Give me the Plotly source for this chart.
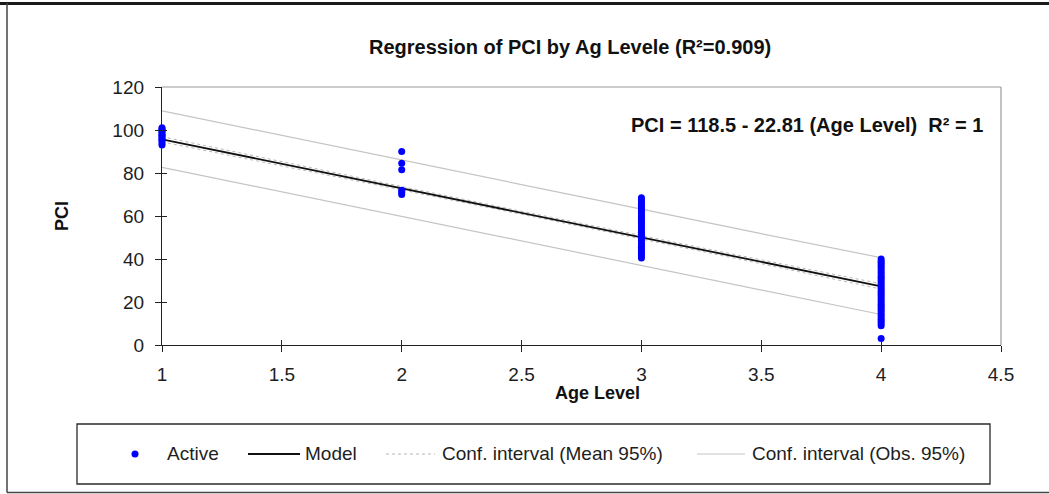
import plotly.graph_objects as go

# ---- data -------------------------------------------------------------
age_1 = [101, 100.5, 100, 99.5, 99, 98, 97.5, 97, 96, 95.5, 95, 94, 93]
age_2 = [90, 84.5, 81.5, 72, 71, 70]
age_3 = [68.5, 67.5, 66.5, 65.5, 64.5, 63.5, 62.5, 61.5, 60.5, 59.5, 58.5,
         57.5, 56.5, 55.5, 54.5, 53.5, 52.5, 51.5, 50.5, 49.5, 48.5, 47.5,
         46.5, 45.5, 44.5, 43.5, 42.5, 41.5, 40.5]
age_4 = [40, 39, 38, 37, 36, 35, 34, 33, 32, 31, 30, 29, 28, 27, 26, 25,
         24, 23, 22, 21, 20, 19, 18, 17, 16, 15, 14, 13, 12, 11, 10, 9, 3]

intercept = 118.5
slope = -22.81

ci_x = [1, 1.5, 2, 2.5, 3, 3.5, 4]
obs_upper = [108.9, 97.4, 86.0, 74.6, 63.2, 51.8, 40.6]
obs_lower = [82.6, 71.2, 59.8, 48.4, 37.0, 25.6, 14.2]
mean_upper = [96.9, 85.2, 73.7, 62.2, 50.8, 39.6, 28.5]
mean_lower = [94.5, 83.4, 72.1, 60.8, 49.4, 37.8, 26.0]

x_ticks = [1, 1.5, 2, 2.5, 3, 3.5, 4, 4.5]
y_ticks = [0, 20, 40, 60, 80, 100, 120]

title_text = "Regression of PCI by Ag Levele (R²=0.909)"
equation_text = "PCI = 118.5 - 22.81 (Age Level)  R² = 1"
legend_labels = ["Active", "Model", "Conf. interval (Mean 95%)",
                 "Conf. interval (Obs. 95%)"]

# ---- geometry helpers (pixel -> paper) ---------------------------------
W, H = 1049, 494
L, R, T, B = 162, 1001, 87, 345


def px(x):
    return (x - L) / (R - L)


def py(y):
    return (B - y) / (B - T)


FONT = "Liberation Sans, Arial, sans-serif"
BLUE = "#0000ff"
GRAY = "#c4c4c4"
MEAN_GRAY = "#b8b8b8"

fig = go.Figure()

pts_x = [1] * len(age_1) + [2] * len(age_2) + [3] * len(age_3) + [4] * len(age_4)
pts_y = age_1 + age_2 + age_3 + age_4

fig.add_trace(go.Scatter(x=ci_x, y=obs_upper, mode="lines",
                         line=dict(color=GRAY, width=1.2), showlegend=False))
fig.add_trace(go.Scatter(x=ci_x, y=obs_lower, mode="lines",
                         line=dict(color=GRAY, width=1.2), showlegend=False))
fig.add_trace(go.Scatter(x=ci_x, y=mean_upper, mode="lines",
                         line=dict(color=MEAN_GRAY, width=1, dash="dot"),
                         showlegend=False))
fig.add_trace(go.Scatter(x=ci_x, y=mean_lower, mode="lines",
                         line=dict(color=MEAN_GRAY, width=1, dash="dot"),
                         showlegend=False))

model_x = [1, 4]
model_y = [intercept + slope * v for v in model_x]
fig.add_trace(go.Scatter(x=model_x, y=model_y, mode="lines",
                         line=dict(color="#111111", width=1.8),
                         showlegend=False))

fig.add_trace(go.Scatter(x=pts_x, y=pts_y, mode="markers",
                         marker=dict(color=BLUE, size=7),
                         cliponaxis=False, showlegend=False))

axis_common = dict(showgrid=False, zeroline=False, showline=True,
                   linecolor="#222222", linewidth=1.3,
                   tickcolor="#222222", ticklen=6, tickwidth=1.2,
                   tickfont=dict(family=FONT, size=19, color="#1e1e1e"))

fig.update_layout(
    width=W, height=H,
    margin=dict(l=L, r=W - R, t=T, b=H - B),
    paper_bgcolor="white", plot_bgcolor="white",
    showlegend=False,
    xaxis=dict(range=[1, 4.5], tickvals=x_ticks,
               ticktext=[f"{v:g}" for v in x_ticks],
               ticks="outside", ticklabelstandoff=6, **axis_common),
    yaxis=dict(range=[0, 120], tickvals=y_ticks, ticks="outside",
               ticklabelstandoff=7, **axis_common),
    xaxis2=dict(range=[1, 4.5], overlaying="x", side="bottom",
                tickvals=x_ticks, ticks="inside", showticklabels=False,
                showgrid=False, zeroline=False, showline=False,
                tickcolor="#222222", ticklen=5, tickwidth=1.2),
    yaxis2=dict(range=[0, 120], overlaying="y", side="left",
                tickvals=y_ticks, ticks="inside", showticklabels=False,
                showgrid=False, zeroline=False, showline=False,
                tickcolor="#222222", ticklen=5, tickwidth=1.2),
)

# empty trace so the inside-tick axes are drawn
fig.add_trace(go.Scatter(x=[None], y=[None], xaxis="x2", yaxis="y2",
                         showlegend=False, hoverinfo="skip"))

shapes = []
# plot frame (top and right)
shapes.append(dict(type="line", xref="paper", yref="paper", x0=0, x1=1,
                   y0=1, y1=1, line=dict(color="#9a9a9a", width=1.2)))
shapes.append(dict(type="line", xref="paper", yref="paper", x0=1, x1=1,
                   y0=0, y1=1, line=dict(color="#9a9a9a", width=1.2)))
# outer chart border
shapes.append(dict(type="line", xref="paper", yref="paper",
                   x0=px(0), x1=px(W), y0=py(3.5), y1=py(3.5),
                   line=dict(color="#1a1a1a", width=3)))
shapes.append(dict(type="line", xref="paper", yref="paper",
                   x0=px(7), x1=px(7), y0=py(3), y1=py(492.5),
                   line=dict(color="#444444", width=1.5)))
shapes.append(dict(type="line", xref="paper", yref="paper",
                   x0=px(7), x1=px(W), y0=py(492.5), y1=py(492.5),
                   line=dict(color="#444444", width=1.5)))
# legend box
shapes.append(dict(type="rect", xref="paper", yref="paper",
                   x0=px(77), x1=px(990), y0=py(484), y1=py(424),
                   line=dict(color="#2a2a2a", width=1.3),
                   fillcolor="rgba(0,0,0,0)"))
leg_y = 454
shapes.append(dict(type="circle", xref="paper", yref="paper",
                   x0=px(131.5), x1=px(138.5), y0=py(leg_y + 3.5),
                   y1=py(leg_y - 3.5), fillcolor=BLUE,
                   line=dict(color=BLUE, width=0)))
shapes.append(dict(type="line", xref="paper", yref="paper",
                   x0=px(248), x1=px(300), y0=py(leg_y), y1=py(leg_y),
                   line=dict(color="#111111", width=1.8)))
shapes.append(dict(type="line", xref="paper", yref="paper",
                   x0=px(386), x1=px(435), y0=py(leg_y), y1=py(leg_y),
                   line=dict(color=MEAN_GRAY, width=1, dash="dot")))
shapes.append(dict(type="line", xref="paper", yref="paper",
                   x0=px(697), x1=px(745), y0=py(leg_y), y1=py(leg_y),
                   line=dict(color=GRAY, width=1.2)))
fig.update_layout(shapes=shapes)

annotations = [
    dict(text=f"<b>{title_text}</b>", x=px(570), y=py(47),
         font=dict(family=FONT, size=20, color="#111111")),
    dict(text=f"<b>{equation_text}</b>", x=px(807), y=py(125),
         font=dict(family=FONT, size=20, color="#111111")),
    dict(text="<b>Age Level</b>", x=px(597), y=py(393),
         font=dict(family=FONT, size=18, color="#111111")),
    dict(text="<b>PCI</b>", x=px(62), y=py(216), textangle=-90,
         font=dict(family=FONT, size=18, color="#111111")),
]
for lx, label in zip([165, 303, 440, 750], legend_labels):
    annotations.append(dict(text=label, x=px(lx), y=py(leg_y),
                            xanchor="left",
                            font=dict(family=FONT, size=19, color="#1e1e1e")))
for a in annotations:
    a.setdefault("xanchor", "center")
    a.update(xref="paper", yref="paper", yanchor="middle", showarrow=False)
fig.update_layout(annotations=annotations)

fig.write_html("out.html")
